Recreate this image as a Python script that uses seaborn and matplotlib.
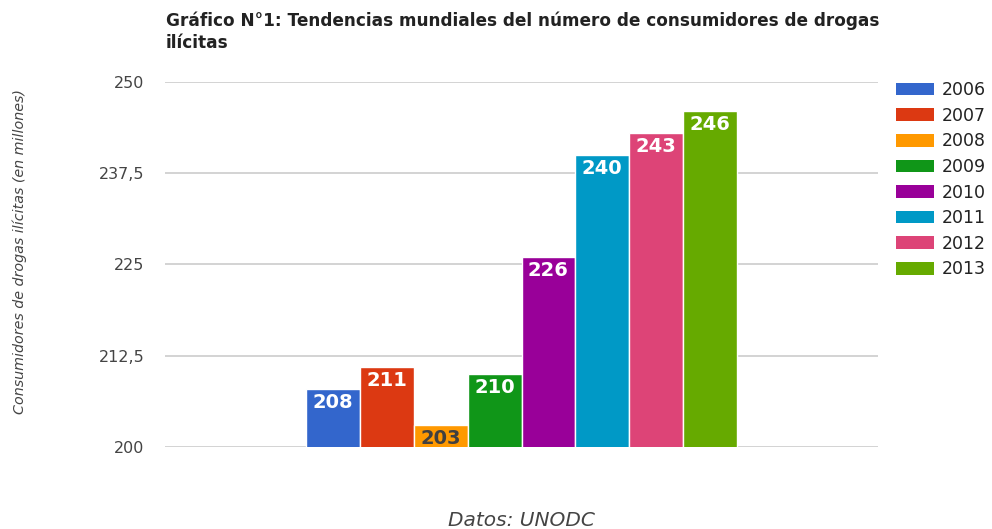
import matplotlib
matplotlib.use('Agg')
import matplotlib.pyplot as plt
from matplotlib.patches import Patch
import seaborn as sns
import pandas as pd

# Datos del gráfico
years = ['2006', '2007', '2008', '2009', '2010', '2011', '2012', '2013']
users = [208, 211, 203, 210, 226, 240, 243, 246]
colors = ['#3366CC', '#DC3912', '#FF9900', '#109618',
          '#990099', '#0099C6', '#DD4477', '#66AA00']
y_ticks = [200, 212.5, 225, 237.5, 250]
y_tick_labels = ['200', '212,5', '225', '237,5', '250']

df = pd.DataFrame({'grupo': [''] * len(years), 'anio': years, 'valor': users})

sns.set_theme(style='white')
plt.rcParams['font.family'] = ['DejaVu Sans']

fig = plt.figure(figsize=(9.92, 5.29), dpi=100)
ax = fig.add_axes([165 / 992, 1 - 447 / 529, 713 / 992, 365 / 529])

sns.barplot(data=df, x='grupo', y='valor', hue='anio', hue_order=years,
            palette=colors, saturation=1, edgecolor='white', linewidth=1,
            legend=False, ax=ax, zorder=2)

ax.set_ylim(200, 250)
ax.set_xlim(-0.663, 0.663)
ax.set_yticks(y_ticks)
ax.set_yticklabels(y_tick_labels)
ax.tick_params(axis='y', length=0, pad=15, labelsize=11.5, labelcolor='#444444')
ax.tick_params(axis='x', length=0, labelbottom=False)
ax.set_xlabel('')
ax.set_ylabel('')
ax.grid(axis='y', color='#cccccc', linewidth=1.2, zorder=0)
ax.grid(axis='x', visible=False)
ax.set_axisbelow(True)
for s in ax.spines.values():
    s.set_visible(False)

# etiquetas dentro de las barras
for year, bar in zip(years, ax.patches):
    h = bar.get_height()
    txt_color = '#404040' if year == '2008' else 'white'
    ax.annotate(f'{h:.0f}', (bar.get_x() + bar.get_width() / 2, h),
                xytext=(0, -3), textcoords='offset points',
                ha='center', va='top', fontsize=14, fontweight='bold',
                color=txt_color, zorder=3, annotation_clip=False)

handles = [Patch(facecolor=c, edgecolor='none') for c in colors]
fig.legend(handles, years, loc='upper left',
           bbox_to_anchor=(896 / 992, 1 - 81 / 529), frameon=False,
           fontsize=12.5, labelcolor='#222222', borderpad=0, borderaxespad=0,
           handlelength=2.2, handleheight=0.75, handletextpad=0.46,
           labelspacing=0.44)

fig.text(166 / 992, 1 - 12 / 529,
         'Gráfico N°1: Tendencias mundiales del número de consumidores de drogas\nilícitas',
         ha='left', va='top', fontsize=12.2, fontweight='bold', color='#222222',
         linespacing=1.25)
fig.text(20 / 992, 1 - 252 / 529, 'Consumidores de drogas ilícitas (en millones)',
         rotation=90, ha='center', va='center', fontsize=10.3, style='italic',
         color='#444444')
fig.text(521 / 992, 1 - 520 / 529, 'Datos: UNODC', ha='center', va='center',
         fontsize=14.5, style='italic', color='#444444')

fig.savefig('out.png', dpi=100)
